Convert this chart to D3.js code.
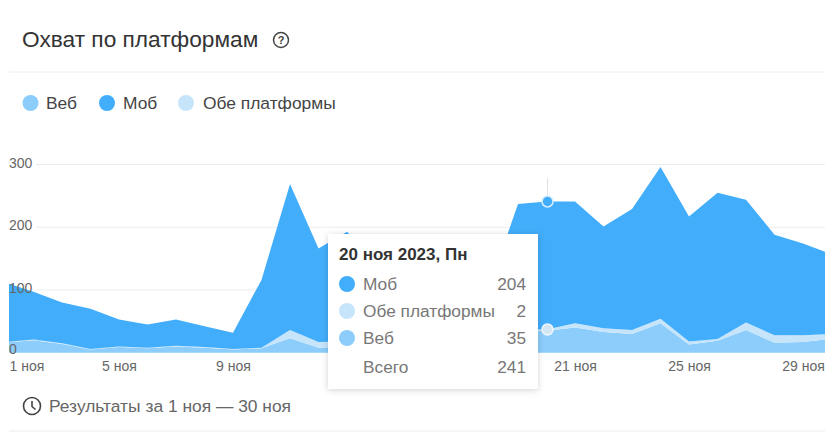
<!DOCTYPE html>
<html><head><meta charset="utf-8">
<script src="https://cdn.jsdelivr.net/npm/d3@7/dist/d3.min.js"></script>
<style>html,body{margin:0;background:#fff}svg{display:block}text{font-family:"Liberation Sans",Arial,sans-serif}</style>
</head><body><div id="c"></div>
<script>
const days=d3.range(1,31);
// Values; days 14-18 lie behind the tooltip and are estimates
const web=[16,20,14,5,9,7,10,8,5,7,23,8,10,12,12,14,18,28,35,35,40,33,30,47,13,19,36,16,17,22];
const both=[1,1,1,1,1,1,1,1,1,1,13,9,8,6,5,5,4,3,2,2,7,6,6,7,5,3,12,12,11,8];
const mob=[95,76,65,64,43,37,42,33,26,108,233,149,175,132,113,101,84,75,200,204,194,162,193,242,199,233,196,160,146,127];
const legendLabels=["Веб","Моб","Обе платформы"];
const yTicks=[0,100,200,300];
const xTicks=[1,5,9,21,25,29];
const tipTitle="20 ноя 2023, Пн";
const tipLabels=["Моб","Обе платформы","Веб","Всего"];
const tipValues=[204,2,35,241];
const colors={web:"#8ccdfb",both:"#c6e5fb",mob:"#42adfb"};

const W=825,H=432;
const svg=d3.select("#c").append("svg").attr("width",W).attr("height",H);
const x=d3.scaleLinear().domain([1,30]).range([5,831.5]);
const y=d3.scaleLinear().domain([0,300]).range([352.7,164.5]);

// header
svg.append("text").attr("x",22).attr("y",47).attr("font-size",22.7).attr("fill","#333").text("Охват по платформам");
const help=svg.append("g").attr("transform","translate(281,40)");
help.append("circle").attr("r",7.5).attr("fill","none").attr("stroke","#444").attr("stroke-width",1.5);
help.append("text").attr("text-anchor","middle").attr("y",4).attr("font-size",11).attr("font-weight",700).attr("fill","#444").text("?");
[72,431].forEach(v=>svg.append("line").attr("x1",9).attr("x2",W).attr("y1",v).attr("y2",v).attr("stroke","#ececec"));

// legend
const lx=[30.5,107,186],tx=[46,123,203],lc=[colors.web,colors.mob,colors.both];
legendLabels.forEach((t,i)=>{
  svg.append("circle").attr("cx",lx[i]).attr("cy",103).attr("r",8).attr("fill",lc[i]);
  svg.append("text").attr("x",tx[i]).attr("y",109).attr("font-size",17.4).attr("fill","#444").text(t);
});

// grid
svg.append("g").selectAll("line").data(yTicks.slice(1)).join("line")
  .attr("x1",36).attr("x2",W).attr("y1",d=>y(d)).attr("y2",d=>y(d)).attr("stroke","#ececec");

svg.append("clipPath").attr("id","cp").append("rect").attr("x",9).attr("y",150).attr("width",W-9).attr("height",210);
const rows=days.map((d,i)=>({d,web:web[i],both:both[i],mob:mob[i]}));
const stack=d3.stack().keys(["web","both","mob"])(rows);
const area=d3.area().x(p=>x(p.data.d)).y0(p=>y(p[0])).y1(p=>y(p[1]));
svg.append("g").attr("clip-path","url(#cp)").selectAll("path").data(stack).join("path")
  .attr("d",area).attr("fill",s=>colors[s.key]);

svg.append("g").selectAll("text").data(yTicks).join("text")
  .attr("x",9).attr("y",d=>d===0?y(d)+1:y(d)+3).attr("font-size",14).attr("fill","#666").text(d=>d);

// x axis
const xa=d3.axisBottom(x).tickValues(xTicks).tickSize(0).tickPadding(0).tickFormat(d=>d+" ноя");
const gx=svg.append("g").attr("transform","translate(0,361)").call(xa);
gx.select(".domain").remove();
gx.selectAll("text").attr("font-size",14).attr("fill","#666").attr("font-family","'Liberation Sans',sans-serif").attr("dy","0.71em")
  .each(function(d){ if(d===1) d3.select(this).attr("x",21.5); });

// hover marks on day 20
const hx=x(20)+1;
svg.append("line").attr("x1",hx).attr("x2",hx).attr("y1",178).attr("y2",y(241)).attr("stroke","#e2e2e2");
svg.append("circle").attr("cx",hx).attr("cy",y(241)).attr("r",5.5).attr("fill",colors.mob).attr("stroke","#d8eefd").attr("stroke-width",1.5);
svg.append("circle").attr("cx",hx).attr("cy",y(37)).attr("r",5.5).attr("fill","#d3e6f3").attr("stroke","#eef7fd").attr("stroke-width",1.5);

// tooltip
const f=svg.append("defs").append("filter").attr("id","sh").attr("x","-10%").attr("y","-10%").attr("width","120%").attr("height","120%");
f.append("feDropShadow").attr("dx",0).attr("dy",1).attr("stdDeviation",3).attr("flood-color","#000").attr("flood-opacity",.18);
const tip=svg.append("g");
tip.append("rect").attr("x",328).attr("y",234).attr("width",210).attr("height",155).attr("fill","#fff").attr("filter","url(#sh)");
tip.append("text").attr("x",339).attr("y",259.5).attr("font-size",17).attr("font-weight",700).attr("fill","#333").text(tipTitle);
const ry=[284,311,338,367],tc=[colors.mob,colors.both,colors.web,null];
tipLabels.forEach((t,i)=>{
  if(tc[i]) tip.append("circle").attr("cx",347).attr("cy",ry[i]).attr("r",8).attr("fill",tc[i]);
  tip.append("text").attr("x",363).attr("y",ry[i]+6).attr("font-size",17.3).attr("fill","#777").text(t);
  tip.append("text").attr("x",526).attr("y",ry[i]+6).attr("text-anchor","end").attr("font-size",17.3).attr("fill","#777").text(tipValues[i]);
});

// footer
const cl=svg.append("g").attr("transform","translate(32,406)").attr("fill","none").attr("stroke","#444").attr("stroke-width",1.6);
cl.append("circle").attr("r",8.5);
cl.append("path").attr("d","M0,-5V0.5L3.5,3.5");
svg.append("text").attr("x",49).attr("y",412).attr("font-size",17.4).attr("fill","#666").text("Результаты за 1 ноя — 30 ноя");
</script></body></html>
